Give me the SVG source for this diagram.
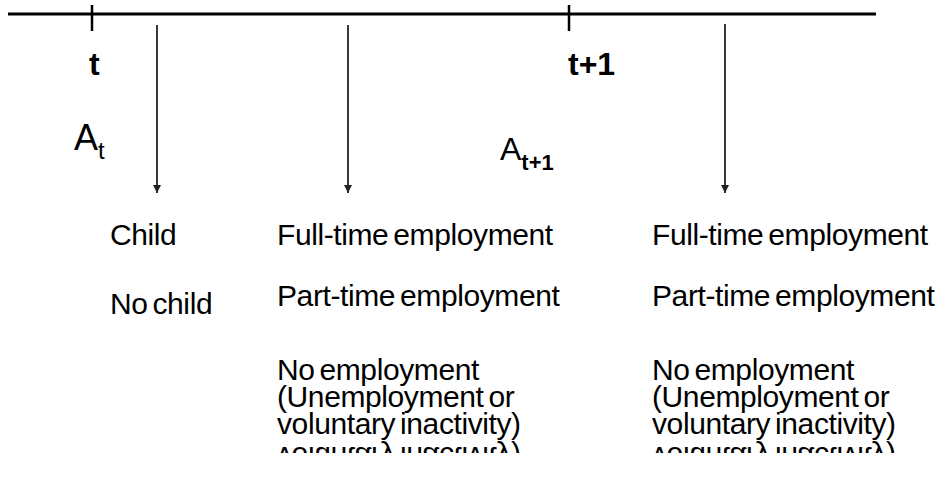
<svg xmlns="http://www.w3.org/2000/svg" width="947" height="477" viewBox="0 0 947 477">
<defs>
<style>
.lbl{font-family:"Liberation Sans",Arial,sans-serif;font-size:30px;letter-spacing:-0.4px;word-spacing:-3px;fill:#000;}
.tl{font-family:"Liberation Sans",Arial,sans-serif;font-size:32px;font-weight:bold;fill:#000;}
.a{font-family:"Liberation Sans",Arial,sans-serif;fill:#000;}
.arr{stroke:#3a3a3a;stroke-width:2;fill:none;marker-end:url(#ah);}
</style>
<marker id="ah" viewBox="0 0 10 10" refX="10" refY="5" markerWidth="4" markerHeight="4" markerUnits="strokeWidth" orient="auto">
<path d="M0,0 L10,5 L0,10 Z" fill="#222"/>
</marker>
<clipPath id="cut"><rect x="0" y="441" width="947" height="12"/></clipPath>
</defs>
<g id="timeline">
<line x1="8" y1="14" x2="876" y2="14" stroke="#000" stroke-width="3"/>
<line x1="92" y1="5" x2="92" y2="31" stroke="#000" stroke-width="2.5"/>
<line x1="569" y1="5" x2="569" y2="31" stroke="#000" stroke-width="2.5"/>
<text class="tl" x="89" y="75">t</text>
<text class="tl" x="568" y="75">t+1</text>
</g>
<g id="labels-a">
<text class="a" x="74" y="150" font-size="36">A<tspan font-size="24" dy="9">t</tspan></text>
<text class="a" x="500" y="160" font-size="32">A<tspan font-size="22" font-weight="bold" dy="10">t+1</tspan></text>
</g>
<g id="connectors">
<line class="arr" x1="157" y1="25" x2="157" y2="193"/>
<line class="arr" x1="348" y1="25" x2="348" y2="193"/>
<line class="arr" x1="725" y1="24" x2="725" y2="193"/>
</g>
<g id="node-child">
<text class="lbl" x="110" y="245">Child</text>
<text class="lbl" x="110" y="314">No child</text>
</g>
<g id="node-employment-t">
<text class="lbl" x="277" y="245">Full-time employment</text>
<text class="lbl" x="277" y="306">Part-time employment</text>
<text class="lbl" x="277" y="380">No employment<tspan x="277" dy="27">(Unemployment or</tspan><tspan x="277" dy="27">voluntary inactivity)</tspan></text>
<g clip-path="url(#cut)"><text class="lbl" x="277" y="434" transform="translate(0,881) scale(1,-1)">voluntary inactivity)</text></g>
</g>
<g id="node-employment-t1">
<text class="lbl" x="652" y="245">Full-time employment</text>
<text class="lbl" x="652" y="306">Part-time employment</text>
<text class="lbl" x="652" y="380">No employment<tspan x="652" dy="27">(Unemployment or</tspan><tspan x="652" dy="27">voluntary inactivity)</tspan></text>
<g clip-path="url(#cut)"><text class="lbl" x="652" y="434" transform="translate(0,881) scale(1,-1)">voluntary inactivity)</text></g>
</g>
</svg>
